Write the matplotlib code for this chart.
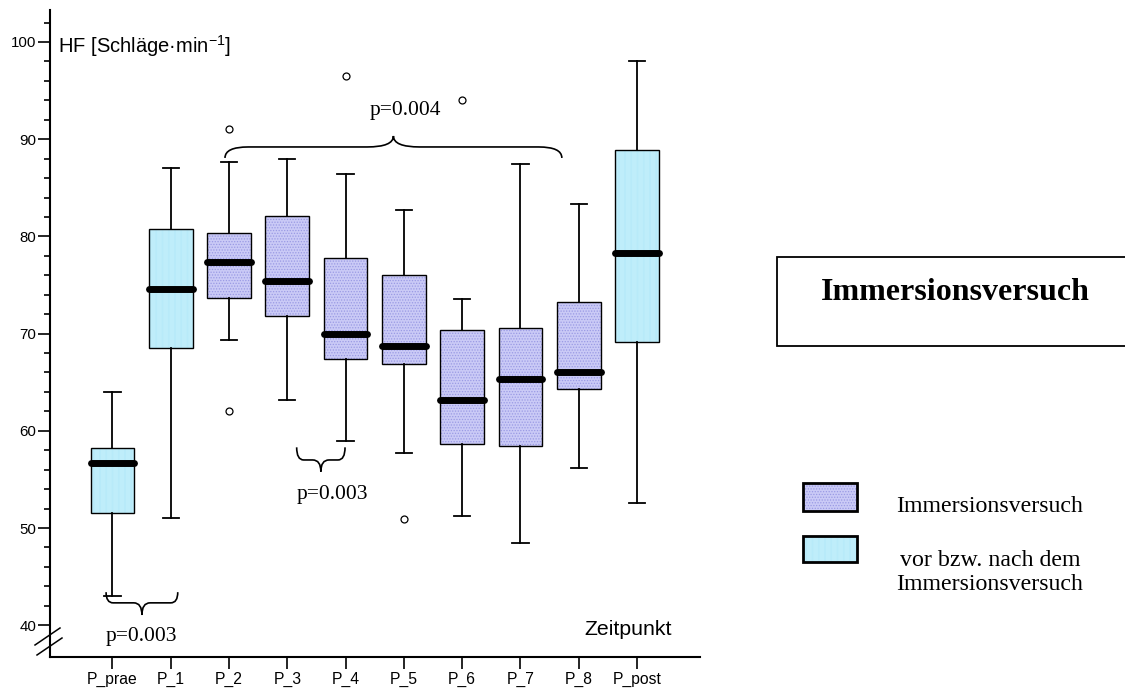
import matplotlib
matplotlib.use("Agg")
import matplotlib.pyplot as plt
from matplotlib.path import Path
from matplotlib.patches import PathPatch, Rectangle
from matplotlib.lines import Line2D
import numpy as np

plt.rcParams['font.family'] = ['Liberation Sans', 'DejaVu Sans']
plt.rcParams['mathtext.fontset'] = 'custom'
plt.rcParams['mathtext.rm'] = 'Liberation Sans'
plt.rcParams['mathtext.it'] = 'Liberation Sans'
plt.rcParams['hatch.linewidth'] = 0.6

# data
labels = ["P_prae", "P_1", "P_2", "P_3", "P_4", "P_5", "P_6", "P_7", "P_8", "P_post"]
whislo = [43.0, 51.0, 69.3, 63.2, 59.0, 57.7, 51.2, 48.5, 56.2, 52.6]
q1 = [51.5, 68.5, 73.7, 71.8, 67.4, 66.9, 58.6, 58.4, 64.3, 69.1]
med = [56.7, 74.6, 77.4, 75.4, 70.0, 68.7, 63.2, 65.3, 66.0, 78.3]
q3 = [58.2, 80.8, 80.3, 82.1, 77.8, 76.0, 70.4, 70.6, 73.2, 88.9]
whishi = [64.0, 87.0, 87.7, 88.0, 86.4, 82.7, 73.6, 87.4, 83.3, 98.0]
fliers = [[], [], [91.0, 62.0], [], [96.5], [50.9], [94.0], [], [], []]
group = ["vor", "vor"] + ["imm"] * 7 + ["vor"]

# braces: x from, x to, y ends, y middle, y tip, text, text x, text y
braces = [
    (0.89, 2.12, 43.4, 42.3, 41.05, "p=0.003", 1.5, 38.8),
    (4.16, 4.99, 58.3, 57.0, 55.8, "p=0.003", 4.78, 53.4),
    (2.93, 8.71, 88.07, 89.2, 90.33, "p=0.004", 6.02, 92.9),
]

face = {"imm": "#cacaf6", "vor": "#d8f8ff"}
hatchcol = {"imm": "#9a9ae4", "vor": "#b2e8f8"}
hatchpat = {"imm": "......", "vor": "||||||||||||||"}

fig = plt.figure(figsize=(11.25, 6.92), dpi=100)
ax = fig.add_axes([50 / 1125, 35 / 692, 650 / 1125, 647 / 692])

pos = np.arange(1, len(labels) + 1)
stats = []
for i in range(len(labels)):
    stats.append(dict(med=med[i], q1=q1[i], q3=q3[i], whislo=whislo[i],
                      whishi=whishi[i], fliers=fliers[i], label=labels[i]))

bp = ax.bxp(stats, positions=pos, widths=0.75, capwidths=0.28, patch_artist=True,
            whiskerprops=dict(color="black", linewidth=1.3),
            capprops=dict(color="black", linewidth=1.3),
            medianprops=dict(color="black", linewidth=5, solid_capstyle="round", zorder=5),
            flierprops=dict(marker="o", markerfacecolor="none", markeredgecolor="black",
                            markersize=5, markeredgewidth=0.9))

for box, g in zip(bp["boxes"], group):
    box.set_facecolor(face[g])
    box.set_edgecolor(hatchcol[g])
    box.set_hatch(hatchpat[g])
    box.set_linewidth(0)
    ax.add_patch(PathPatch(box.get_path(), facecolor="none", edgecolor="black",
                           linewidth=1.0, zorder=box.get_zorder() + 0.1))

ax.set_xlim(-0.072, 11.08)
ax.set_ylim(36.73, 103.29)

ax.spines["top"].set_visible(False)
ax.spines["right"].set_visible(False)
ax.spines["left"].set_linewidth(1.5)
ax.spines["bottom"].set_linewidth(1.5)

ax.set_xticks(pos)
ax.set_xticklabels(labels, fontsize=11.3)
ax.set_yticks([40, 50, 60, 70, 80, 90, 100])
ax.set_yticklabels(["40", "50", "60", "70", "80", "90", "100"], fontsize=10.8)
ax.set_yticks([v for v in range(42, 103, 2) if v % 10 != 0], minor=True)
ax.tick_params(axis="y", which="major", direction="out", length=9, width=1.2, pad=1)
ax.tick_params(axis="y", which="minor", direction="out", length=4.5, width=1.2)
ax.tick_params(axis="x", which="major", direction="out", length=8.5, width=1.2, pad=2)

ax.text(0.065, 99.6, r"HF [Schläge·min$^{-1}$]", fontsize=14.5, va="center", ha="left")
ax.text(9.84, 39.6, "Zeitpunkt", fontsize=15.3, va="center", ha="center")


def brace(x0, x1, ye, ym, yt, dxe, dxm):
    xm = (x0 + x1) / 2
    verts = [(x0, ye), (x0, ym), (x0 + dxe, ym),
             (xm - dxm, ym),
             (xm, ym), (xm, yt),
             (xm, ym), (xm + dxm, ym),
             (x1 - dxe, ym),
             (x1, ym), (x1, ye)]
    codes = [Path.MOVETO, Path.CURVE3, Path.CURVE3,
             Path.LINETO,
             Path.CURVE3, Path.CURVE3,
             Path.CURVE3, Path.CURVE3,
             Path.LINETO,
             Path.CURVE3, Path.CURVE3]
    ax.add_patch(PathPatch(Path(verts, codes), facecolor="none", edgecolor="black",
                           linewidth=1.2, clip_on=False))


for b in braces:
    big = (b[1] - b[0]) > 3
    brace(b[0], b[1], b[2], b[3], b[4], 0.4 if big else 0.12, 0.45 if big else 0.14)
    ax.text(b[6], b[7], b[5], fontsize=15.5, ha="center", va="center",
            family=["Liberation Serif", "DejaVu Serif"])

# broken axis marks
for (xa, ya, xb, yb) in [(35, 645, 60, 628), (37, 655, 62, 638)]:
    fig.add_artist(Line2D([xa / 1125, xb / 1125], [1 - ya / 692, 1 - yb / 692],
                          color="black", linewidth=1.1))

# title box
fig.add_artist(Rectangle((777 / 1125, 1 - 346 / 692), 400 / 1125, 89 / 692,
                         facecolor="white", edgecolor="black", linewidth=1.3,
                         transform=fig.transFigure))
fig.text(955 / 1125, 1 - 293 / 692, "Immersionsversuch", fontsize=23, fontweight="bold",
         ha="center", va="center", family=["Liberation Serif", "DejaVu Serif"])

# legend
for g, ytop, ybot in [("imm", 483, 511), ("vor", 536, 562)]:
    fig.add_artist(Rectangle((803 / 1125, 1 - ybot / 692), 54 / 1125, (ybot - ytop) / 692,
                             facecolor=face[g], edgecolor=hatchcol[g], hatch=hatchpat[g],
                             linewidth=0, transform=fig.transFigure))
    fig.add_artist(Rectangle((803 / 1125, 1 - ybot / 692), 54 / 1125, (ybot - ytop) / 692,
                             facecolor="none", edgecolor="black", linewidth=2,
                             transform=fig.transFigure))
for txt, yy in [("Immersionsversuch", 507), ("vor bzw. nach dem", 560), ("Immersionsversuch", 585)]:
    fig.text(990 / 1125, 1 - yy / 692, txt, fontsize=17.2, ha="center", va="center",
             family=["Liberation Serif", "DejaVu Serif"])

fig.savefig("out.png", dpi=100)
